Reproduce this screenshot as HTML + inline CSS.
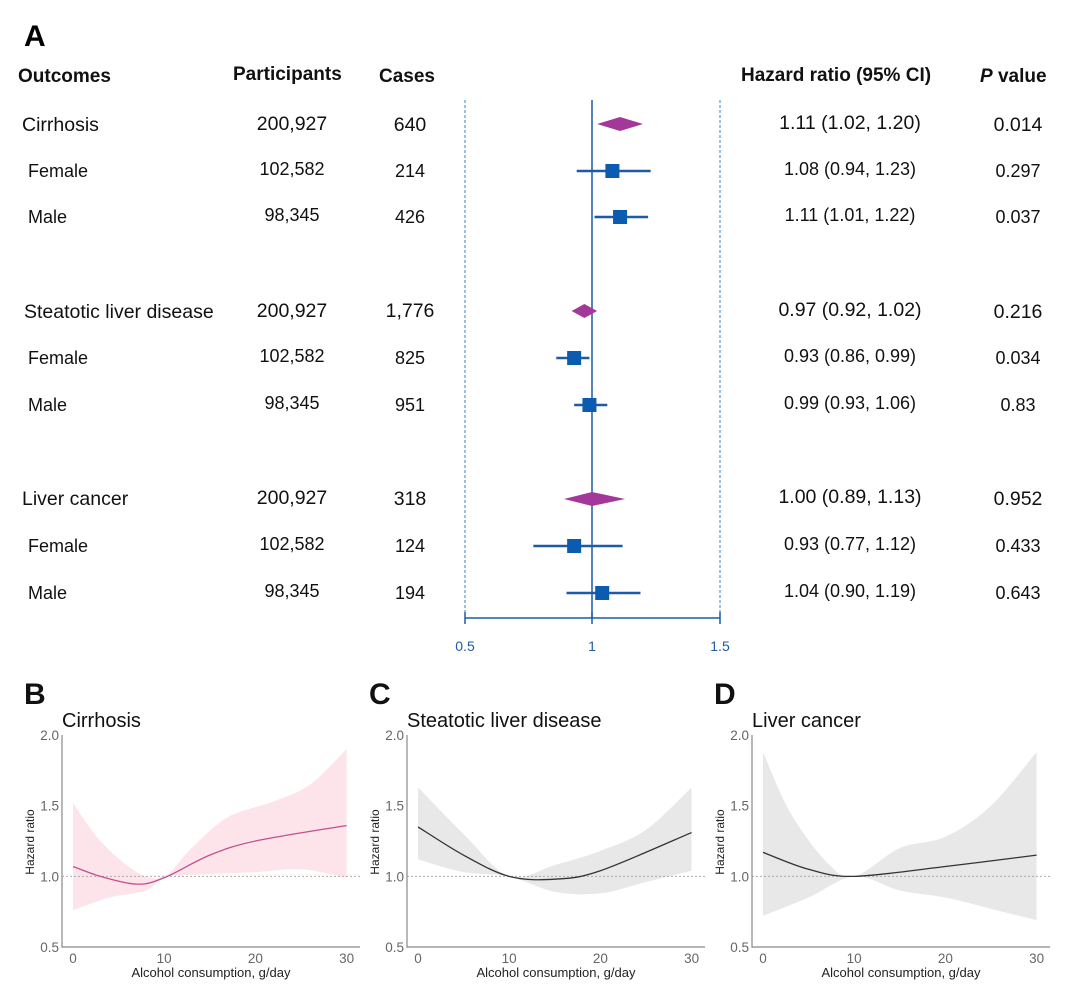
<!DOCTYPE html>
<html><head><meta charset="utf-8"><style>
html,body{margin:0;padding:0;background:#fff;}
svg{display:block;font-family:"Liberation Sans",Arial,sans-serif;}
</style></head><body>
<svg id="s" width="1080" height="998" viewBox="0 0 1080 998">
<text x="24" y="46" font-size="30" font-weight="bold">A</text>
<g font-size="19" font-weight="bold" fill="#111">
<text x="18" y="82">Outcomes</text>
<text x="233" y="80">Participants</text>
<text x="379" y="82">Cases</text>
<text x="741" y="81">Hazard ratio (95% CI)</text>
<text x="980" y="82"><tspan font-style="italic">P</tspan> value</text>
</g>
<g font-size="19.5" fill="#111">
<text x="22" y="131">Cirrhosis</text><text x="292" y="130" text-anchor="middle">200,927</text><text x="410" y="131" text-anchor="middle">640</text><text x="850" y="129" text-anchor="middle">1.11 (1.02, 1.20)</text><text x="1018" y="131" text-anchor="middle">0.014</text>
<text x="24" y="318">Steatotic liver disease</text><text x="292" y="317" text-anchor="middle">200,927</text><text x="410" y="317" text-anchor="middle">1,776</text><text x="850" y="316" text-anchor="middle">0.97 (0.92, 1.02)</text><text x="1018" y="318" text-anchor="middle">0.216</text>
<text x="22" y="505">Liver cancer</text><text x="292" y="504" text-anchor="middle">200,927</text><text x="410" y="505" text-anchor="middle">318</text><text x="850" y="503" text-anchor="middle">1.00 (0.89, 1.13)</text><text x="1018" y="505" text-anchor="middle">0.952</text>
</g>
<g font-size="18" fill="#111">
<text x="28" y="177">Female</text><text x="292" y="175" text-anchor="middle">102,582</text><text x="410" y="177" text-anchor="middle">214</text><text x="850" y="175" text-anchor="middle">1.08 (0.94, 1.23)</text><text x="1018" y="177" text-anchor="middle">0.297</text>
<text x="28" y="223">Male</text><text x="292" y="221" text-anchor="middle">98,345</text><text x="410" y="223" text-anchor="middle">426</text><text x="850" y="221" text-anchor="middle">1.11 (1.01, 1.22)</text><text x="1018" y="223" text-anchor="middle">0.037</text>
<text x="28" y="364">Female</text><text x="292" y="362" text-anchor="middle">102,582</text><text x="410" y="364" text-anchor="middle">825</text><text x="850" y="362" text-anchor="middle">0.93 (0.86, 0.99)</text><text x="1018" y="364" text-anchor="middle">0.034</text>
<text x="28" y="411">Male</text><text x="292" y="409" text-anchor="middle">98,345</text><text x="410" y="411" text-anchor="middle">951</text><text x="850" y="409" text-anchor="middle">0.99 (0.93, 1.06)</text><text x="1018" y="411" text-anchor="middle">0.83</text>
<text x="28" y="552">Female</text><text x="292" y="550" text-anchor="middle">102,582</text><text x="410" y="552" text-anchor="middle">124</text><text x="850" y="550" text-anchor="middle">0.93 (0.77, 1.12)</text><text x="1018" y="552" text-anchor="middle">0.433</text>
<text x="28" y="599">Male</text><text x="292" y="597" text-anchor="middle">98,345</text><text x="410" y="599" text-anchor="middle">194</text><text x="850" y="597" text-anchor="middle">1.04 (0.90, 1.19)</text><text x="1018" y="599" text-anchor="middle">0.643</text>
</g>
<g stroke="#3a7fd0" stroke-width="1" stroke-dasharray="3,2"><line x1="465" y1="100" x2="465" y2="618"/><line x1="720" y1="100" x2="720" y2="618"/></g>
<g stroke="#1f5aa6" stroke-width="1.5"><line x1="592" y1="100" x2="592" y2="618"/><line x1="465" y1="618" x2="720" y2="618"/><line x1="465" y1="612" x2="465" y2="624"/><line x1="592" y1="612" x2="592" y2="624"/><line x1="720" y1="612" x2="720" y2="624"/></g>
<g font-size="14" fill="#1f5aa6" text-anchor="middle"><text x="465" y="651">0.5</text><text x="592" y="651">1</text><text x="720" y="651">1.5</text></g>
<g id="forest"></g>
<g id="bottom"></g>
</svg>
<script>
var NS="http://www.w3.org/2000/svg";
function el(p,t,a,txt){var e=document.createElementNS(NS,t);for(var k in a)e.setAttribute(k,a[k]);if(txt!==undefined)e.textContent=txt;p.appendChild(e);return e;}
var f=document.getElementById("forest");
function X(v){return 592+(v-1)*255;}
var rows=[[124,1.11,1.02,1.20,1],[171,1.08,0.94,1.23,0],[217,1.11,1.01,1.22,0],[311,0.97,0.92,1.02,1],[358,0.93,0.86,0.99,0],[405,0.99,0.93,1.06,0],[499,1.00,0.89,1.13,1],[546,0.93,0.77,1.12,0],[593,1.04,0.90,1.19,0]];
rows.forEach(function(r){var y=r[0];
if(r[4]){el(f,"polygon",{points:X(r[2])+","+y+" "+X(r[1])+","+(y-7)+" "+X(r[3])+","+y+" "+X(r[1])+","+(y+7),fill:"#a3379a"});}
else{el(f,"line",{x1:X(r[2]),y1:y,x2:X(r[3]),y2:y,stroke:"#1f5aa6","stroke-width":2.5});el(f,"rect",{x:X(r[1])-7,y:y-7,width:14,height:14,fill:"#0b5bb0"});}
});
var b=document.getElementById("bottom");
function spline(pts){var d="M"+pts[0][0]+","+pts[0][1];for(var i=0;i<pts.length-1;i++){var p0=pts[Math.max(0,i-1)],p1=pts[i],p2=pts[i+1],p3=pts[Math.min(pts.length-1,i+2)];
d+=" C"+(p1[0]+(p2[0]-p0[0])/6)+","+(p1[1]+(p2[1]-p0[1])/6)+" "+(p2[0]-(p3[0]-p1[0])/6)+","+(p2[1]-(p3[1]-p1[1])/6)+" "+p2[0]+","+p2[1];}return d;}
var panels=[
{o:0,L:"B",T:"Cirrhosis",fill:"#fde4ea",line:"#c2508f",
 m:[[0,1.07],[3,1.0],[7,0.945],[10,0.99],[15,1.15],[20,1.25],[30,1.36]],
 u:[[0,1.52],[3,1.25],[7,1.03],[10,1.0],[13,1.2],[17,1.42],[22,1.53],[26,1.65],[30,1.9]],
 l:[[0,0.76],[4,0.85],[8,0.9],[10,0.99],[13,1.01],[20,1.03],[25,1.05],[30,0.99]]},
{o:345,L:"C",T:"Steatotic liver disease",fill:"#e8e8e8",line:"#333",
 m:[[0,1.35],[5,1.15],[10,1.0],[15,0.98],[20,1.04],[30,1.31]],
 u:[[0,1.63],[5,1.3],[10,1.0],[15,1.08],[20,1.18],[25,1.33],[30,1.63]],
 l:[[0,1.12],[5,1.03],[10,1.0],[15,0.89],[20,0.88],[25,0.96],[30,1.04]]},
{o:690,L:"D",T:"Liver cancer",fill:"#e8e8e8",line:"#333",
 m:[[0,1.17],[5,1.05],[10,1.0],[20,1.07],[30,1.15]],
 u:[[0,1.88],[3,1.45],[7,1.1],[10,1.0],[15,1.2],[20,1.28],[25,1.5],[30,1.88]],
 l:[[0,0.72],[5,0.85],[10,1.0],[15,0.9],[20,0.85],[25,0.77],[30,0.69]]}];
panels.forEach(function(P){var o=P.o;
function px(x){return 73+o+x*9.12;} function py(v){return 947-(v-0.5)*141.3;}
function tr(a){return a.map(function(p){return [px(p[0]),py(p[1])];});}
var u=tr(P.u),l=tr(P.l).reverse();
var d=spline(u)+" L"+l[0][0]+","+l[0][1]+spline(l).replace(/^M[^ ]*/,"")+" Z";
el(b,"path",{d:d,fill:P.fill,stroke:"none"});
el(b,"line",{x1:62+o,y1:py(1),x2:360+o,y2:py(1),stroke:"#aaa","stroke-dasharray":"2,2","stroke-width":1});
el(b,"path",{d:spline(tr(P.m)),fill:"none",stroke:P.line,"stroke-width":1.3});
el(b,"path",{d:"M"+(62+o)+",735 V947 H"+(360+o),fill:"none",stroke:"#888","stroke-width":1.2});
[[2,"2.0"],[1.5,"1.5"],[1,"1.0"],[0.5,"0.5"]].forEach(function(t){el(b,"text",{x:59+o,y:py(t[0])+5,"font-size":13.5,fill:"#666","text-anchor":"end"},t[1]);});
[0,10,20,30].forEach(function(t){el(b,"text",{x:px(t),y:963,"font-size":13.5,fill:"#666","text-anchor":"middle"},String(t));});
el(b,"text",{x:211+o,y:977,"font-size":13,fill:"#222","text-anchor":"middle"},"Alcohol consumption, g/day");
el(b,"text",{x:0,y:0,"font-size":12,fill:"#222","text-anchor":"middle",transform:"translate("+(34+o)+",842) rotate(-90)"},"Hazard ratio");
el(b,"text",{x:24+o,y:704,"font-size":30,"font-weight":"bold",fill:"#111"},P.L);
el(b,"text",{x:62+o,y:727,"font-size":20,fill:"#111"},P.T);
});
</script>
</body></html>
